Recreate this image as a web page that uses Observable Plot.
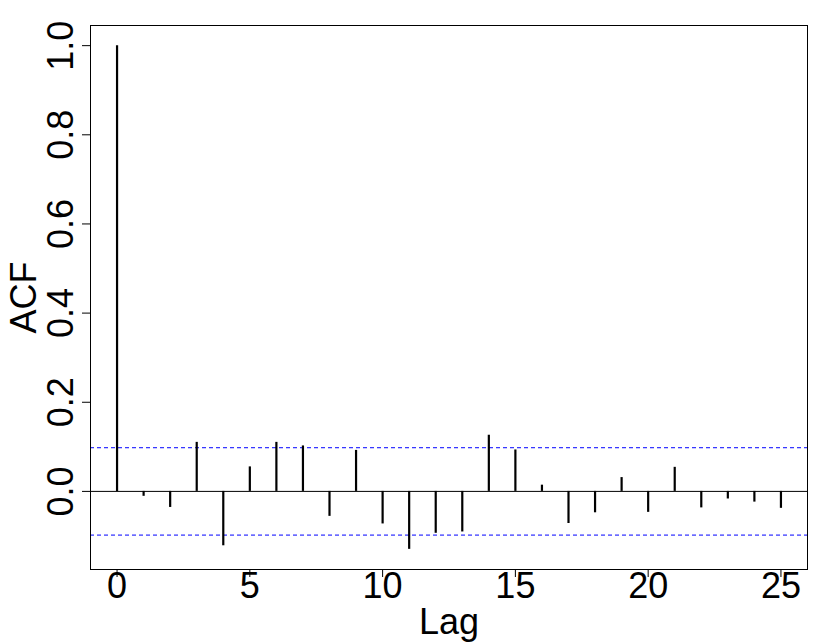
<!DOCTYPE html>
<html>
<head>
<meta charset="utf-8">
<script src="https://cdn.jsdelivr.net/npm/d3@7"></script>
<script src="https://cdn.jsdelivr.net/npm/@observablehq/plot@0.6"></script>
<style>
  html, body { margin: 0; padding: 0; background: #fff; }
  #chart svg { display: block; }
</style>
</head>
<body>
<div id="chart"></div>
<script>
const lags = [0,1,2,3,4,5,6,7,8,9,10,11,12,13,14,15,16,17,18,19,20,21,22,23,24,25];
const acfValues = [1.0,-0.011,-0.036,0.110,-0.122,0.055,0.110,0.102,-0.056,0.092,-0.073,-0.130,-0.094,-0.091,0.126,0.093,0.014,-0.072,-0.048,0.031,-0.047,0.054,-0.037,-0.017,-0.024,-0.038];
const ciBound = [0.098, -0.098];
const xTicks = [0,5,10,15,20,25];
const yTicks = [0,0.2,0.4,0.6,0.8,1.0];
const yTickLabels = ["0.0","0.2","0.4","0.6","0.8","1.0"];

const data = lags.map((lag, i) => ({lag, acf: acfValues[i]}));
const yLabelData = yTicks.map((v, i) => ({v, label: yTickLabels[i]}));

const font = "Liberation Sans, Arial, Helvetica, sans-serif";

const chart = Plot.plot({
  width: 830,
  height: 642,
  marginLeft: 90,
  marginRight: 23,
  marginTop: 25,
  marginBottom: 73,
  style: {fontFamily: font, background: "#fff", color: "#000"},
  x: {domain: [-1, 26]},
  y: {domain: [-0.1752, 1.0452]},
  marks: [
    Plot.ruleY(ciBound, {stroke: "#0000ff", strokeWidth: 1, strokeDasharray: "4,3"}),
    Plot.ruleY([0], {stroke: "#000", strokeWidth: 1}),
    Plot.ruleX(data, {x: "lag", y1: 0, y2: "acf", stroke: "#000", strokeWidth: 2.2}),
    Plot.frame({stroke: "#000", strokeWidth: 1}),
    Plot.axisX({ticks: xTicks, tickSize: 8, tickPadding: -5, fontSize: 36, label: null, stroke: "#000"}),
    Plot.axisY({ticks: yTicks, tickSize: 8, tickFormat: () => "", label: null}),
    Plot.text(yLabelData, {y: "v", text: "label", frameAnchor: "left", dx: -18, rotate: -90, textAnchor: "middle", lineAnchor: "bottom", fontSize: 36, fill: "#000"}),
    Plot.text(["ACF"], {frameAnchor: "left", dx: -55, rotate: -90, textAnchor: "middle", lineAnchor: "bottom", fontSize: 36, fill: "#000"}),
    Plot.text(["Lag"], {frameAnchor: "bottom", dy: 64, textAnchor: "middle", lineAnchor: "bottom", fontSize: 36, fill: "#000"})
  ]
});
document.getElementById("chart").appendChild(chart);
</script>
</body>
</html>
